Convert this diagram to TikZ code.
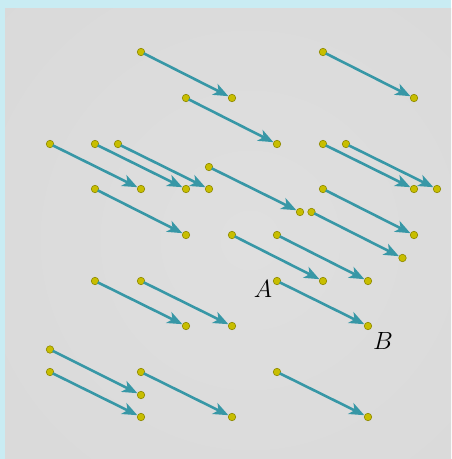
\documentclass[tikz,border=0pt]{standalone}
\usetikzlibrary{arrows.meta}
\definecolor{bordblue}{HTML}{C9ECF3}
\definecolor{bggray}{HTML}{D8D8D8}
\definecolor{bglight}{HTML}{DFDFDF}
\definecolor{vecteal}{HTML}{3797A6}
\definecolor{dotfill}{HTML}{C8BE00}
\definecolor{dotedge}{HTML}{8F8A00}
\tikzset{
  dot/.style={circle,fill=dotfill,draw=dotedge,line width=0.6pt,inner sep=0pt,minimum size=7.5pt},
  vec/.style={draw=vecteal,line width=2.6pt,-{Stealth[length=15pt,width=12pt,inset=4pt]},shorten <=-1pt},
  lbl/.style={font=\fontsize{29}{30}\selectfont}
}
\begin{document}
\begin{tikzpicture}[x=1pt,y=-1pt]
\useasboundingbox (0,0) rectangle (451,459);
\fill[bordblue] (0,0) rectangle (451,459);
\begin{scope}
\clip (5,8) rectangle (451,459);
\fill[bggray] (5,8) rectangle (451,459);
\shade[inner color=bglight,outer color=bggray,draw=none] (250,240) circle (420);
\end{scope}
\foreach \i/\xa/\ya/\xb/\yb in {
 1/141/52/232/98, 2/186/98/277/144, 3/323/52/414/98,
 4/50/144/141/189, 5/95/144/186/189, 6/118/144/209/189,
 7/209/167/300/212, 8/95/189/186/235, 9/323/144/414/189,
 10/346/144/437/189, 11/323/189/414/235, 12/311.5/212/402.5/258,
 13/232/235/323/281, 14/277/235/368/281, 15/95/281/186/326,
 16/141/281/232/326, 17/277/281/368/326, 18/50/349.5/141/395,
 19/50/372/141/417, 20/141/372/232/417, 21/277/372/368/417}{
  \node[dot] (s\i) at (\xa,\ya) {};
  \node[dot] (e\i) at (\xb,\yb) {};
  \draw[vec] (s\i) -- (e\i);
}
\node[lbl] (A) at (263,289) {$A$};
\node[lbl] (B) at (383,341) {$B$};
\end{tikzpicture}
\end{document}
